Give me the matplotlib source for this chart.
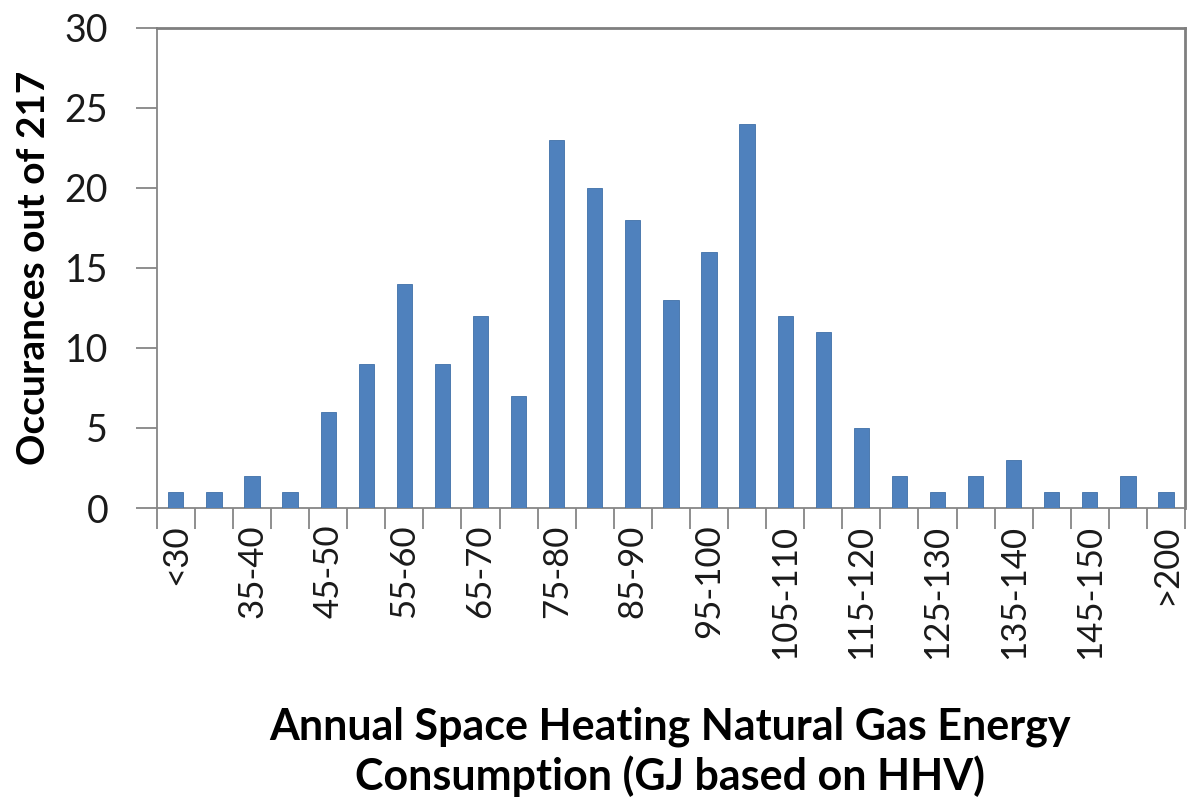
import numpy as np
import matplotlib
matplotlib.use('Agg')
import matplotlib.pyplot as plt

# bins of annual space heating gas consumption (GJ)
bins = ["<30", "30-35", "35-40", "40-45", "45-50", "50-55", "55-60", "60-65",
        "65-70", "70-75", "75-80", "80-85", "85-90", "90-95", "95-100",
        "100-105", "105-110", "110-115", "115-120", "120-125", "125-130",
        "130-135", "135-140", "140-145", "145-150", "150-200", ">200"]
counts = [1, 1, 2, 1, 6, 9, 14, 9, 12, 7, 23, 20, 18, 13, 16,
          24, 12, 11, 5, 2, 1, 2, 3, 1, 1, 2, 1]
yticks = [0, 5, 10, 15, 20, 25, 30]

plt.rcParams['font.family'] = ['Lato', 'DejaVu Sans']
axis_grey = '#868686'

fig = plt.figure(figsize=(11.88, 7.97), dpi=100)
ax = fig.add_axes([0.132, 0.3626, 0.8655, 0.6024])

x = np.arange(len(bins))
ax.bar(x, counts, width=0.4, color='#4F81BD', edgecolor='#3F6FA8', linewidth=0.6, zorder=3)

ax.set_xlim(-0.5, len(bins) - 0.5)
ax.set_ylim(0, 30)
ax.set_yticks(yticks)
ax.set_yticklabels([str(v) for v in yticks], fontsize=27, color='#1a1a1a')

# labels on every other category, tick marks between categories
ax.set_xticks(x[::2])
ax.set_xticklabels(bins[::2], rotation=90, fontsize=25, color='#1a1a1a')
ax.set_xticks(np.arange(-0.5, len(bins), 1), minor=True)
ax.tick_params(axis='x', which='major', length=0, pad=12)
ax.tick_params(axis='x', which='minor', length=15, width=1.3, color=axis_grey)
ax.tick_params(axis='y', length=15, width=1.3, color=axis_grey, pad=20)

for side in ['left', 'bottom']:
    ax.spines[side].set_color(axis_grey)
    ax.spines[side].set_linewidth(1.3)
for side in ['top', 'right']:
    ax.spines[side].set_color('#7f7f7f')
    ax.spines[side].set_linewidth(2)

ax.set_ylabel('Occurances out of 217', fontsize=28, fontweight='bold')
ax.yaxis.set_label_coords(-0.103, 0.5)
fig.text(0.564, 0.0, 'Annual Space Heating Natural Gas Energy\nConsumption (GJ based on HHV)',
         ha='center', va='bottom', fontsize=31, fontweight='bold', linespacing=1.25)

fig.savefig('out.png', dpi=100)
